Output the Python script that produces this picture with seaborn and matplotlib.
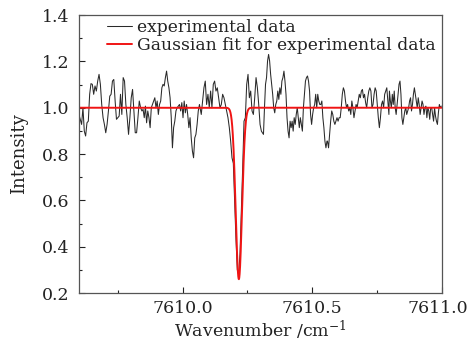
import numpy as np
import pandas as pd
import matplotlib
matplotlib.use("Agg")
import matplotlib.pyplot as plt
import matplotlib.transforms as mtransforms
import seaborn as sns
from matplotlib.ticker import MultipleLocator

# ---- data ----
seg1_range = (7609.600, 7609.838)
seg1_int = [0.971, 0.950, 0.928, 1.000, 0.899, 0.878, 0.935, 0.942, 1.058, 1.104,
            1.101, 1.058, 1.094, 1.072, 1.115, 1.144, 1.101, 1.014, 0.957, 0.928,
            0.892, 0.928, 0.986, 1.050, 1.058, 1.115, 1.122, 1.029, 0.950, 0.957,
            0.964, 1.058, 0.971, 1.130, 1.115, 1.014, 0.957, 0.885, 0.957, 1.043,
            1.079, 0.986, 0.892, 0.892, 0.957, 1.029, 1.000]
seg2_range = (7609.843, 7610.065)
seg2_int = [0.986, 0.993, 0.957, 1.007, 0.935, 0.986, 0.957, 0.914, 1.000, 1.014,
            1.029, 1.043, 1.000, 1.029, 0.971, 1.014, 1.029, 1.086, 1.101, 1.094,
            1.130, 1.158, 1.115, 1.086, 1.043, 0.957, 0.827, 0.914, 0.942, 0.986,
            1.000, 1.007, 1.014, 0.986, 1.022, 0.957, 1.029, 0.978, 1.014, 0.971,
            0.914, 0.957, 0.870, 0.813, 0.784, 0.870, 0.885, 0.928, 0.986, 1.014]
seg3_range = (7610.072, 7610.304)
seg3_int = [0.971, 1.029, 1.086, 1.115, 1.014, 1.058, 1.000, 1.072, 1.000, 1.101,
            1.115, 1.072, 1.086, 1.043, 1.000, 1.014, 1.058, 1.043, 1.014, 0.986,
            0.957, 0.914, 0.856, 0.784, 0.76, 0.60, 0.43, 0.30, 0.28, 0.37,
            0.55, 0.74, 0.942, 0.957, 1.101, 1.144, 1.043, 1.072, 0.986, 0.971,
            1.043, 1.130, 1.086, 1.014, 0.928, 0.899]
seg4_range = (7610.312, 7610.557)
seg4_int = [0.885, 1.000, 1.101, 1.130, 1.202, 1.230, 1.202, 1.144, 1.101, 1.058,
            1.000, 0.978, 1.014, 1.029, 1.072, 1.036, 1.086, 1.058, 1.115, 1.130,
            1.158, 1.115, 1.058, 0.957, 0.899, 0.870, 0.942, 0.914, 0.942, 0.899,
            0.957, 0.928, 0.971, 1.000, 0.957, 0.914, 0.957, 0.928, 0.899, 1.000,
            1.058, 1.115, 1.130, 1.137, 1.115, 1.072, 0.971, 0.928, 0.971, 1.000,
            1.014, 1.058, 1.000, 1.058, 1.029, 1.014, 1.014, 1.029, 0.957, 0.914,
            0.856, 0.827, 0.856]
seg5_range = (7610.559, 7610.796)
seg5_int = [0.856, 0.827, 0.885, 0.942, 0.986, 0.971, 0.942, 0.928, 0.942, 0.957,
            0.942, 0.957, 0.957, 1.000, 1.058, 1.086, 1.072, 1.029, 1.000, 1.014,
            0.986, 1.000, 0.971, 1.029, 1.000, 0.957, 0.986, 1.014, 1.000, 1.029,
            1.058, 1.043, 1.072, 1.079, 1.043, 1.058, 1.022, 1.000, 1.043, 1.072,
            1.086, 1.072, 1.000, 1.014, 1.058, 1.086, 1.072, 1.014, 0.957, 0.914,
            0.957, 1.014, 1.029, 1.000, 1.058, 1.072, 1.086, 1.029, 0.971]
seg6_range = (7610.798, 7610.998)
seg6_int = [1.072, 1.029, 1.000, 1.058, 1.014, 1.072, 1.000, 0.971, 1.014, 1.058,
            1.101, 1.115, 1.058, 0.957, 0.928, 0.957, 0.986, 1.000, 0.971, 0.986,
            1.000, 1.029, 1.043, 0.986, 1.014, 1.058, 1.086, 1.058, 1.029, 1.000,
            1.043, 1.014, 0.971, 1.000, 1.029, 1.014, 0.971, 1.000, 1.007, 0.957,
            1.000, 0.986, 0.950, 1.000, 1.000, 0.971, 0.942, 1.000, 0.964, 0.942,
            0.928, 0.978, 1.014, 1.000, 1.007]

# Gaussian fit parameters
fit_baseline = 1.0
fit_depth = 0.74
fit_center = 7610.217
fit_sigma = 0.0121

x_ticks = [7610.0, 7610.5, 7611.0]
x_tick_labels = ["7610.0", "7610.5", "7611.0"]
y_ticks = [0.2, 0.4, 0.6, 0.8, 1.0, 1.2, 1.4]
y_tick_labels = ["0.2", "0.4", "0.6", "0.8", "1.0", "1.2", "1.4"]

segments = [(seg1_range, seg1_int), (seg2_range, seg2_int), (seg3_range, seg3_int),
            (seg4_range, seg4_int), (seg5_range, seg5_int), (seg6_range, seg6_int)]
wn, inten = [], []
for (a, b), vals in segments:
    wn.extend(np.linspace(a, b, len(vals)))
    inten.extend(vals)
exp_df = pd.DataFrame({"wavenumber": wn, "intensity": inten})

fit_x = np.linspace(7609.6, 7611.0, 3000)
fit_y = fit_baseline - fit_depth * np.exp(-(fit_x - fit_center) ** 2 / (2 * fit_sigma ** 2))
fit_df = pd.DataFrame({"wavenumber": fit_x, "intensity": fit_y})

# ---- plot ----
sns.set_theme(style="white")
plt.rcParams["font.family"] = ["DejaVu Serif"]
plt.rcParams["mathtext.fontset"] = "dejavuserif"

fig = plt.figure(figsize=(4.67, 3.42), dpi=100)
ax = fig.add_axes([0.169, 0.143, 0.777, 0.813])

sns.lineplot(data=exp_df, x="wavenumber", y="intensity", ax=ax, color="#2a2a2a",
             linewidth=0.75, estimator=None, sort=False, label="experimental data")
sns.lineplot(data=fit_df, x="wavenumber", y="intensity", ax=ax, color="#f01414",
             linewidth=1.4, estimator=None, sort=False,
             label="Gaussian fit for experimental data")

ax.set_xlim(7609.6, 7611.0)
ax.set_ylim(0.2, 1.4)
ax.set_xticks(x_ticks)
ax.set_xticklabels(x_tick_labels)
ax.set_yticks(y_ticks)
ax.set_yticklabels(y_tick_labels)
ax.xaxis.set_minor_locator(MultipleLocator(0.25))
ax.yaxis.set_minor_locator(MultipleLocator(0.1))
ax.tick_params(axis="both", which="both", direction="in", bottom=True, left=True,
               top=False, right=False, labelsize=12.5, colors="#222222")
ax.tick_params(axis="x", which="major", pad=5)
ax.tick_params(axis="y", which="major", pad=7)
ax.tick_params(axis="both", which="major", length=4, width=0.8)
ax.tick_params(axis="both", which="minor", length=2.5, width=0.8)
for s in ax.spines.values():
    s.set_color("#555555")
    s.set_linewidth(0.9)

# keep the last x tick label inside the canvas
last = ax.get_xticklabels()[-1]
last.set_transform(last.get_transform() +
                   mtransforms.ScaledTranslation(-4 / 100, 0, fig.dpi_scale_trans))

ax.set_xlabel("Wavenumber /cm$^{-1}$", fontsize=12.5, labelpad=1, color="#222222")
ax.set_ylabel("Intensity", fontsize=13, labelpad=10, color="#222222")

leg = ax.legend(loc="upper left", bbox_to_anchor=(0.076, 0.985), frameon=False,
                fontsize=12.3, handlelength=1.5, handletextpad=0.3, labelspacing=0.05,
                borderaxespad=0, borderpad=0)
for t in leg.get_texts():
    t.set_color("#222222")

fig.savefig("out.png", dpi=100)
